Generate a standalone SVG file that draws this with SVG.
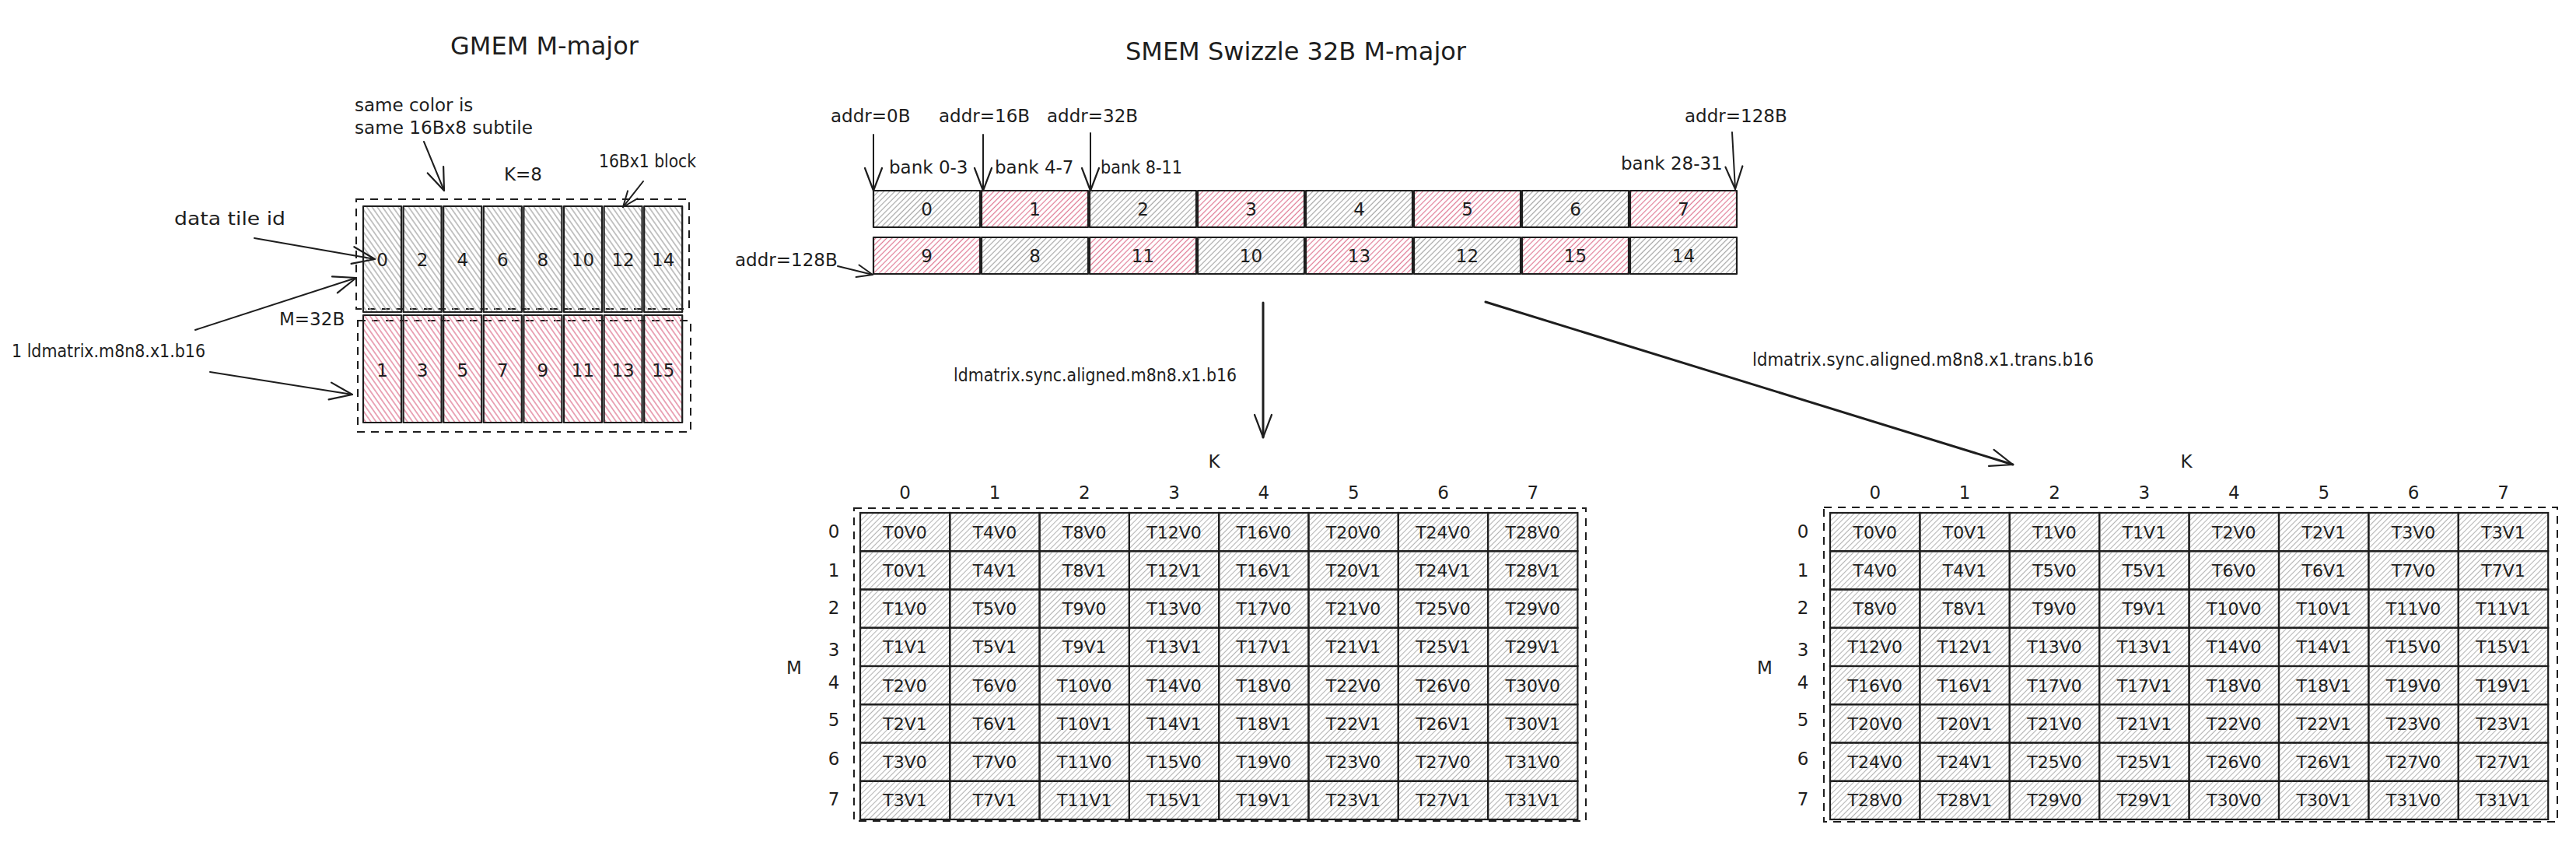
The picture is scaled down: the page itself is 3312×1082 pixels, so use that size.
<svg xmlns="http://www.w3.org/2000/svg" width="3312" height="1082" viewBox="0 0 3312 1082">
<defs>
<style>
text{font-family:"DejaVu Sans","Liberation Sans",sans-serif;fill:#1e1e1e}
.title{font-size:32px;text-anchor:middle}
.lbl{font-size:23px}
.mid{text-anchor:middle;dominant-baseline:central}
.num{font-size:23px;text-anchor:middle;dominant-baseline:central}
.ct{font-size:22px;text-anchor:middle;dominant-baseline:central}
.box{stroke:#1e1e1e;stroke-width:2.2;stroke-linejoin:round}
.gg{fill:url(#hGg)}
.gp{fill:url(#hGp)}
.sg{fill:url(#hSg)}
.sp{fill:url(#hSp)}
.mc{fill:url(#hM);stroke:#1e1e1e;stroke-width:2.2}
.dash{fill:none;stroke:#1e1e1e;stroke-width:2;stroke-dasharray:10 8}
.con{fill:none;stroke:#1e1e1e;stroke-width:2;stroke-linecap:round}
.big{stroke-width:3}
</style>
<pattern id="hGg" width="5.5" height="5.5" patternUnits="userSpaceOnUse" patternTransform="rotate(-35)"><line x1="2.75" y1="0" x2="2.75" y2="5.5" stroke="#a6a6a6" stroke-width="1.3"/></pattern>
<pattern id="hGp" width="5.5" height="5.5" patternUnits="userSpaceOnUse" patternTransform="rotate(-35)"><line x1="2.75" y1="0" x2="2.75" y2="5.5" stroke="#e07a94" stroke-width="1.3"/></pattern>
<pattern id="hSg" width="5" height="5" patternUnits="userSpaceOnUse" patternTransform="rotate(45)"><line x1="2.5" y1="0" x2="2.5" y2="5" stroke="#a6a6a6" stroke-width="1.2"/></pattern>
<pattern id="hSp" width="5" height="5" patternUnits="userSpaceOnUse" patternTransform="rotate(45)"><line x1="2.5" y1="0" x2="2.5" y2="5" stroke="#e07a94" stroke-width="1.2"/></pattern>
<pattern id="hM" width="5" height="5" patternUnits="userSpaceOnUse" patternTransform="rotate(45)"><line x1="2.5" y1="0" x2="2.5" y2="5" stroke="#b4b4b4" stroke-width="1.1"/></pattern>
<marker id="arr" viewBox="0 0 34 26" refX="31" refY="13" markerWidth="34" markerHeight="26" markerUnits="userSpaceOnUse" orient="auto" overflow="visible"><path d="M2 2 L31 13 L2 24" fill="none" stroke="#1e1e1e" stroke-width="2.2" stroke-linecap="round" stroke-linejoin="round"/></marker>
<marker id="arrS" viewBox="0 0 24 20" refX="22" refY="10" markerWidth="24" markerHeight="20" markerUnits="userSpaceOnUse" orient="auto" overflow="visible"><path d="M2 2 L22 10 L2 18" fill="none" stroke="#1e1e1e" stroke-width="2" stroke-linecap="round" stroke-linejoin="round"/></marker>
</defs>
<rect width="3312" height="1082" fill="#ffffff"/>

<g id="gmem">
<text class="title" x="700" y="70">GMEM M-major</text>
<rect class="dash" x="458" y="256" width="428" height="141"/>
<rect class="dash" x="460" y="412" width="428" height="143"/>
<g id="gmem-t0"><rect class="box gg" x="467" y="265" width="49" height="136"/><text class="num" x="491.5" y="334">0</text></g>
<g id="gmem-t2"><rect class="box gg" x="518.6" y="265" width="49" height="136"/><text class="num" x="543.1" y="334">2</text></g>
<g id="gmem-t4"><rect class="box gg" x="570.2" y="265" width="49" height="136"/><text class="num" x="594.7" y="334">4</text></g>
<g id="gmem-t6"><rect class="box gg" x="621.8" y="265" width="49" height="136"/><text class="num" x="646.3" y="334">6</text></g>
<g id="gmem-t8"><rect class="box gg" x="673.4" y="265" width="49" height="136"/><text class="num" x="697.9" y="334">8</text></g>
<g id="gmem-t10"><rect class="box gg" x="725" y="265" width="49" height="136"/><text class="num" x="749.5" y="334">10</text></g>
<g id="gmem-t12"><rect class="box gg" x="776.6" y="265" width="49" height="136"/><text class="num" x="801.1" y="334">12</text></g>
<g id="gmem-t14"><rect class="box gg" x="828.2" y="265" width="49" height="136"/><text class="num" x="852.7" y="334">14</text></g>
<g id="gmem-t1"><rect class="box gp" x="467" y="405" width="49" height="138"/><text class="num" x="491.5" y="476">1</text></g>
<g id="gmem-t3"><rect class="box gp" x="518.6" y="405" width="49" height="138"/><text class="num" x="543.1" y="476">3</text></g>
<g id="gmem-t5"><rect class="box gp" x="570.2" y="405" width="49" height="138"/><text class="num" x="594.7" y="476">5</text></g>
<g id="gmem-t7"><rect class="box gp" x="621.8" y="405" width="49" height="138"/><text class="num" x="646.3" y="476">7</text></g>
<g id="gmem-t9"><rect class="box gp" x="673.4" y="405" width="49" height="138"/><text class="num" x="697.9" y="476">9</text></g>
<g id="gmem-t11"><rect class="box gp" x="725" y="405" width="49" height="138"/><text class="num" x="749.5" y="476">11</text></g>
<g id="gmem-t13"><rect class="box gp" x="776.6" y="405" width="49" height="138"/><text class="num" x="801.1" y="476">13</text></g>
<g id="gmem-t15"><rect class="box gp" x="828.2" y="405" width="49" height="138"/><text class="num" x="852.7" y="476">15</text></g>
</g>

<g id="gmem-labels">
<text class="lbl" x="456" y="143">same color is</text>
<text class="lbl" x="456" y="172" textLength="229" lengthAdjust="spacingAndGlyphs">same 16Bx8 subtile</text>
<text class="lbl" x="648" y="232">K=8</text>
<text class="lbl" x="770" y="215" textLength="125" lengthAdjust="spacingAndGlyphs">16Bx1 block</text>
<text class="lbl" x="224" y="289" textLength="143" lengthAdjust="spacingAndGlyphs">data tile id</text>
<text class="lbl" x="359" y="418">M=32B</text>
<text class="lbl" x="15" y="459" textLength="249" lengthAdjust="spacingAndGlyphs">1 ldmatrix.m8n8.x1.b16</text>
</g>

<g id="smem">
<text class="title" x="1666" y="77">SMEM Swizzle 32B M-major</text>
<g id="smem-t0"><rect class="box sg" x="1123" y="245" width="137" height="47"/><text class="num" x="1191.5" y="269">0</text></g>
<g id="smem-t1"><rect class="box sp" x="1262" y="245" width="137" height="47"/><text class="num" x="1330.5" y="269">1</text></g>
<g id="smem-t2"><rect class="box sg" x="1401" y="245" width="137" height="47"/><text class="num" x="1469.5" y="269">2</text></g>
<g id="smem-t3"><rect class="box sp" x="1540" y="245" width="137" height="47"/><text class="num" x="1608.5" y="269">3</text></g>
<g id="smem-t4"><rect class="box sg" x="1679" y="245" width="137" height="47"/><text class="num" x="1747.5" y="269">4</text></g>
<g id="smem-t5"><rect class="box sp" x="1818" y="245" width="137" height="47"/><text class="num" x="1886.5" y="269">5</text></g>
<g id="smem-t6"><rect class="box sg" x="1957" y="245" width="137" height="47"/><text class="num" x="2025.5" y="269">6</text></g>
<g id="smem-t7"><rect class="box sp" x="2096" y="245" width="137" height="47"/><text class="num" x="2164.5" y="269">7</text></g>
<g id="smem-t9"><rect class="box sp" x="1123" y="305" width="137" height="47"/><text class="num" x="1191.5" y="329">9</text></g>
<g id="smem-t8"><rect class="box sg" x="1262" y="305" width="137" height="47"/><text class="num" x="1330.5" y="329">8</text></g>
<g id="smem-t11"><rect class="box sp" x="1401" y="305" width="137" height="47"/><text class="num" x="1469.5" y="329">11</text></g>
<g id="smem-t10"><rect class="box sg" x="1540" y="305" width="137" height="47"/><text class="num" x="1608.5" y="329">10</text></g>
<g id="smem-t13"><rect class="box sp" x="1679" y="305" width="137" height="47"/><text class="num" x="1747.5" y="329">13</text></g>
<g id="smem-t12"><rect class="box sg" x="1818" y="305" width="137" height="47"/><text class="num" x="1886.5" y="329">12</text></g>
<g id="smem-t15"><rect class="box sp" x="1957" y="305" width="137" height="47"/><text class="num" x="2025.5" y="329">15</text></g>
<g id="smem-t14"><rect class="box sg" x="2096" y="305" width="137" height="47"/><text class="num" x="2164.5" y="329">14</text></g>
</g>

<g id="smem-labels">
<text class="lbl" x="1068" y="157">addr=0B</text>
<text class="lbl" x="1207" y="157">addr=16B</text>
<text class="lbl" x="1346" y="157">addr=32B</text>
<text class="lbl" x="2166" y="157">addr=128B</text>
<text class="lbl" x="945" y="342">addr=128B</text>
<text class="lbl" x="1143" y="223">bank 0-3</text>
<text class="lbl" x="1279" y="223">bank 4-7</text>
<text class="lbl" x="1415" y="223" textLength="105" lengthAdjust="spacingAndGlyphs">bank 8-11</text>
<text class="lbl" x="2084" y="218">bank 28-31</text>
</g>

<g id="op-labels">
<text class="lbl" x="1226" y="490" textLength="364" lengthAdjust="spacingAndGlyphs">ldmatrix.sync.aligned.m8n8.x1.b16</text>
<text class="lbl" x="2253" y="470" textLength="439" lengthAdjust="spacingAndGlyphs">ldmatrix.sync.aligned.m8n8.x1.trans.b16</text>
</g>

<g id="connectors">
<line class="con" x1="545" y1="182" x2="571" y2="245" marker-end="url(#arr)"/>
<line class="con" x1="827" y1="233" x2="801" y2="266" marker-end="url(#arrS)"/>
<line class="con" x1="327" y1="306" x2="482" y2="333" marker-end="url(#arr)"/>
<line class="con" x1="251" y1="424" x2="458" y2="357" marker-end="url(#arr)"/>
<line class="con" x1="270" y1="478" x2="453" y2="507" marker-end="url(#arr)"/>
<line class="con" x1="1123" y1="173" x2="1123" y2="245" marker-end="url(#arr)"/>
<line class="con" x1="1264" y1="173" x2="1264" y2="245" marker-end="url(#arr)"/>
<line class="con" x1="1402" y1="171" x2="1402" y2="245" marker-end="url(#arr)"/>
<line class="con" x1="2227" y1="170" x2="2231" y2="243" marker-end="url(#arr)"/>
<line class="con" x1="1077" y1="342" x2="1122" y2="353" marker-end="url(#arrS)"/>
<line class="con big" x1="1624" y1="389" x2="1624" y2="562" marker-end="url(#arr)"/>
<line class="con big" x1="1910" y1="388" x2="2588" y2="597" marker-end="url(#arr)"/>
</g>

<g id="matrix-left">
<text class="lbl mid" x="1561" y="593">K</text>
<text class="lbl mid" x="1021" y="858">M</text>
<text class="lbl mid" x="1163.6" y="633">0</text>
<text class="lbl mid" x="1279" y="633">1</text>
<text class="lbl mid" x="1394.3" y="633">2</text>
<text class="lbl mid" x="1509.6" y="633">3</text>
<text class="lbl mid" x="1624.9" y="633">4</text>
<text class="lbl mid" x="1740.2" y="633">5</text>
<text class="lbl mid" x="1855.5" y="633">6</text>
<text class="lbl mid" x="1970.8" y="633">7</text>
<text class="lbl mid" x="1072" y="683">0</text>
<text class="lbl mid" x="1072" y="733">1</text>
<text class="lbl mid" x="1072" y="781">2</text>
<text class="lbl mid" x="1072" y="835">3</text>
<text class="lbl mid" x="1072" y="877">4</text>
<text class="lbl mid" x="1072" y="925">5</text>
<text class="lbl mid" x="1072" y="975">6</text>
<text class="lbl mid" x="1072" y="1027">7</text>
<rect class="dash" x="1098" y="653" width="941" height="402"/>
<g transform="translate(1106,659)">
<g id="L-r0c0" transform="translate(0,0)"><rect class="mc" width="115.3" height="49.25"/><text class="ct" x="57.6" y="25">T0V0</text></g>
<g id="L-r0c1" transform="translate(115.3,0)"><rect class="mc" width="115.3" height="49.25"/><text class="ct" x="57.6" y="25">T4V0</text></g>
<g id="L-r0c2" transform="translate(230.6,0)"><rect class="mc" width="115.3" height="49.25"/><text class="ct" x="57.6" y="25">T8V0</text></g>
<g id="L-r0c3" transform="translate(345.9,0)"><rect class="mc" width="115.3" height="49.25"/><text class="ct" x="57.6" y="25">T12V0</text></g>
<g id="L-r0c4" transform="translate(461.2,0)"><rect class="mc" width="115.3" height="49.25"/><text class="ct" x="57.6" y="25">T16V0</text></g>
<g id="L-r0c5" transform="translate(576.5,0)"><rect class="mc" width="115.3" height="49.25"/><text class="ct" x="57.6" y="25">T20V0</text></g>
<g id="L-r0c6" transform="translate(691.8,0)"><rect class="mc" width="115.3" height="49.25"/><text class="ct" x="57.6" y="25">T24V0</text></g>
<g id="L-r0c7" transform="translate(807.1,0)"><rect class="mc" width="115.3" height="49.25"/><text class="ct" x="57.6" y="25">T28V0</text></g>
<g id="L-r1c0" transform="translate(0,49.25)"><rect class="mc" width="115.3" height="49.25"/><text class="ct" x="57.6" y="25">T0V1</text></g>
<g id="L-r1c1" transform="translate(115.3,49.25)"><rect class="mc" width="115.3" height="49.25"/><text class="ct" x="57.6" y="25">T4V1</text></g>
<g id="L-r1c2" transform="translate(230.6,49.25)"><rect class="mc" width="115.3" height="49.25"/><text class="ct" x="57.6" y="25">T8V1</text></g>
<g id="L-r1c3" transform="translate(345.9,49.25)"><rect class="mc" width="115.3" height="49.25"/><text class="ct" x="57.6" y="25">T12V1</text></g>
<g id="L-r1c4" transform="translate(461.2,49.25)"><rect class="mc" width="115.3" height="49.25"/><text class="ct" x="57.6" y="25">T16V1</text></g>
<g id="L-r1c5" transform="translate(576.5,49.25)"><rect class="mc" width="115.3" height="49.25"/><text class="ct" x="57.6" y="25">T20V1</text></g>
<g id="L-r1c6" transform="translate(691.8,49.25)"><rect class="mc" width="115.3" height="49.25"/><text class="ct" x="57.6" y="25">T24V1</text></g>
<g id="L-r1c7" transform="translate(807.1,49.25)"><rect class="mc" width="115.3" height="49.25"/><text class="ct" x="57.6" y="25">T28V1</text></g>
<g id="L-r2c0" transform="translate(0,98.5)"><rect class="mc" width="115.3" height="49.25"/><text class="ct" x="57.6" y="25">T1V0</text></g>
<g id="L-r2c1" transform="translate(115.3,98.5)"><rect class="mc" width="115.3" height="49.25"/><text class="ct" x="57.6" y="25">T5V0</text></g>
<g id="L-r2c2" transform="translate(230.6,98.5)"><rect class="mc" width="115.3" height="49.25"/><text class="ct" x="57.6" y="25">T9V0</text></g>
<g id="L-r2c3" transform="translate(345.9,98.5)"><rect class="mc" width="115.3" height="49.25"/><text class="ct" x="57.6" y="25">T13V0</text></g>
<g id="L-r2c4" transform="translate(461.2,98.5)"><rect class="mc" width="115.3" height="49.25"/><text class="ct" x="57.6" y="25">T17V0</text></g>
<g id="L-r2c5" transform="translate(576.5,98.5)"><rect class="mc" width="115.3" height="49.25"/><text class="ct" x="57.6" y="25">T21V0</text></g>
<g id="L-r2c6" transform="translate(691.8,98.5)"><rect class="mc" width="115.3" height="49.25"/><text class="ct" x="57.6" y="25">T25V0</text></g>
<g id="L-r2c7" transform="translate(807.1,98.5)"><rect class="mc" width="115.3" height="49.25"/><text class="ct" x="57.6" y="25">T29V0</text></g>
<g id="L-r3c0" transform="translate(0,147.75)"><rect class="mc" width="115.3" height="49.25"/><text class="ct" x="57.6" y="25">T1V1</text></g>
<g id="L-r3c1" transform="translate(115.3,147.75)"><rect class="mc" width="115.3" height="49.25"/><text class="ct" x="57.6" y="25">T5V1</text></g>
<g id="L-r3c2" transform="translate(230.6,147.75)"><rect class="mc" width="115.3" height="49.25"/><text class="ct" x="57.6" y="25">T9V1</text></g>
<g id="L-r3c3" transform="translate(345.9,147.75)"><rect class="mc" width="115.3" height="49.25"/><text class="ct" x="57.6" y="25">T13V1</text></g>
<g id="L-r3c4" transform="translate(461.2,147.75)"><rect class="mc" width="115.3" height="49.25"/><text class="ct" x="57.6" y="25">T17V1</text></g>
<g id="L-r3c5" transform="translate(576.5,147.75)"><rect class="mc" width="115.3" height="49.25"/><text class="ct" x="57.6" y="25">T21V1</text></g>
<g id="L-r3c6" transform="translate(691.8,147.75)"><rect class="mc" width="115.3" height="49.25"/><text class="ct" x="57.6" y="25">T25V1</text></g>
<g id="L-r3c7" transform="translate(807.1,147.75)"><rect class="mc" width="115.3" height="49.25"/><text class="ct" x="57.6" y="25">T29V1</text></g>
<g id="L-r4c0" transform="translate(0,197)"><rect class="mc" width="115.3" height="49.25"/><text class="ct" x="57.6" y="25">T2V0</text></g>
<g id="L-r4c1" transform="translate(115.3,197)"><rect class="mc" width="115.3" height="49.25"/><text class="ct" x="57.6" y="25">T6V0</text></g>
<g id="L-r4c2" transform="translate(230.6,197)"><rect class="mc" width="115.3" height="49.25"/><text class="ct" x="57.6" y="25">T10V0</text></g>
<g id="L-r4c3" transform="translate(345.9,197)"><rect class="mc" width="115.3" height="49.25"/><text class="ct" x="57.6" y="25">T14V0</text></g>
<g id="L-r4c4" transform="translate(461.2,197)"><rect class="mc" width="115.3" height="49.25"/><text class="ct" x="57.6" y="25">T18V0</text></g>
<g id="L-r4c5" transform="translate(576.5,197)"><rect class="mc" width="115.3" height="49.25"/><text class="ct" x="57.6" y="25">T22V0</text></g>
<g id="L-r4c6" transform="translate(691.8,197)"><rect class="mc" width="115.3" height="49.25"/><text class="ct" x="57.6" y="25">T26V0</text></g>
<g id="L-r4c7" transform="translate(807.1,197)"><rect class="mc" width="115.3" height="49.25"/><text class="ct" x="57.6" y="25">T30V0</text></g>
<g id="L-r5c0" transform="translate(0,246.25)"><rect class="mc" width="115.3" height="49.25"/><text class="ct" x="57.6" y="25">T2V1</text></g>
<g id="L-r5c1" transform="translate(115.3,246.25)"><rect class="mc" width="115.3" height="49.25"/><text class="ct" x="57.6" y="25">T6V1</text></g>
<g id="L-r5c2" transform="translate(230.6,246.25)"><rect class="mc" width="115.3" height="49.25"/><text class="ct" x="57.6" y="25">T10V1</text></g>
<g id="L-r5c3" transform="translate(345.9,246.25)"><rect class="mc" width="115.3" height="49.25"/><text class="ct" x="57.6" y="25">T14V1</text></g>
<g id="L-r5c4" transform="translate(461.2,246.25)"><rect class="mc" width="115.3" height="49.25"/><text class="ct" x="57.6" y="25">T18V1</text></g>
<g id="L-r5c5" transform="translate(576.5,246.25)"><rect class="mc" width="115.3" height="49.25"/><text class="ct" x="57.6" y="25">T22V1</text></g>
<g id="L-r5c6" transform="translate(691.8,246.25)"><rect class="mc" width="115.3" height="49.25"/><text class="ct" x="57.6" y="25">T26V1</text></g>
<g id="L-r5c7" transform="translate(807.1,246.25)"><rect class="mc" width="115.3" height="49.25"/><text class="ct" x="57.6" y="25">T30V1</text></g>
<g id="L-r6c0" transform="translate(0,295.5)"><rect class="mc" width="115.3" height="49.25"/><text class="ct" x="57.6" y="25">T3V0</text></g>
<g id="L-r6c1" transform="translate(115.3,295.5)"><rect class="mc" width="115.3" height="49.25"/><text class="ct" x="57.6" y="25">T7V0</text></g>
<g id="L-r6c2" transform="translate(230.6,295.5)"><rect class="mc" width="115.3" height="49.25"/><text class="ct" x="57.6" y="25">T11V0</text></g>
<g id="L-r6c3" transform="translate(345.9,295.5)"><rect class="mc" width="115.3" height="49.25"/><text class="ct" x="57.6" y="25">T15V0</text></g>
<g id="L-r6c4" transform="translate(461.2,295.5)"><rect class="mc" width="115.3" height="49.25"/><text class="ct" x="57.6" y="25">T19V0</text></g>
<g id="L-r6c5" transform="translate(576.5,295.5)"><rect class="mc" width="115.3" height="49.25"/><text class="ct" x="57.6" y="25">T23V0</text></g>
<g id="L-r6c6" transform="translate(691.8,295.5)"><rect class="mc" width="115.3" height="49.25"/><text class="ct" x="57.6" y="25">T27V0</text></g>
<g id="L-r6c7" transform="translate(807.1,295.5)"><rect class="mc" width="115.3" height="49.25"/><text class="ct" x="57.6" y="25">T31V0</text></g>
<g id="L-r7c0" transform="translate(0,344.75)"><rect class="mc" width="115.3" height="49.25"/><text class="ct" x="57.6" y="25">T3V1</text></g>
<g id="L-r7c1" transform="translate(115.3,344.75)"><rect class="mc" width="115.3" height="49.25"/><text class="ct" x="57.6" y="25">T7V1</text></g>
<g id="L-r7c2" transform="translate(230.6,344.75)"><rect class="mc" width="115.3" height="49.25"/><text class="ct" x="57.6" y="25">T11V1</text></g>
<g id="L-r7c3" transform="translate(345.9,344.75)"><rect class="mc" width="115.3" height="49.25"/><text class="ct" x="57.6" y="25">T15V1</text></g>
<g id="L-r7c4" transform="translate(461.2,344.75)"><rect class="mc" width="115.3" height="49.25"/><text class="ct" x="57.6" y="25">T19V1</text></g>
<g id="L-r7c5" transform="translate(576.5,344.75)"><rect class="mc" width="115.3" height="49.25"/><text class="ct" x="57.6" y="25">T23V1</text></g>
<g id="L-r7c6" transform="translate(691.8,344.75)"><rect class="mc" width="115.3" height="49.25"/><text class="ct" x="57.6" y="25">T27V1</text></g>
<g id="L-r7c7" transform="translate(807.1,344.75)"><rect class="mc" width="115.3" height="49.25"/><text class="ct" x="57.6" y="25">T31V1</text></g>
</g>
</g>

<g id="matrix-right">
<text class="lbl mid" x="2811" y="593">K</text>
<text class="lbl mid" x="2269" y="858">M</text>
<text class="lbl mid" x="2410.7" y="633">0</text>
<text class="lbl mid" x="2526.1" y="633">1</text>
<text class="lbl mid" x="2641.5" y="633">2</text>
<text class="lbl mid" x="2756.9" y="633">3</text>
<text class="lbl mid" x="2872.3" y="633">4</text>
<text class="lbl mid" x="2987.7" y="633">5</text>
<text class="lbl mid" x="3103.1" y="633">6</text>
<text class="lbl mid" x="3218.5" y="633">7</text>
<text class="lbl mid" x="2318" y="683">0</text>
<text class="lbl mid" x="2318" y="733">1</text>
<text class="lbl mid" x="2318" y="781">2</text>
<text class="lbl mid" x="2318" y="835">3</text>
<text class="lbl mid" x="2318" y="877">4</text>
<text class="lbl mid" x="2318" y="925">5</text>
<text class="lbl mid" x="2318" y="975">6</text>
<text class="lbl mid" x="2318" y="1027">7</text>
<rect class="dash" x="2345" y="652" width="943" height="404"/>
<g transform="translate(2353,659)">
<g id="R-r0c0" transform="translate(0,0)"><rect class="mc" width="115.4" height="49.25"/><text class="ct" x="57.7" y="25">T0V0</text></g>
<g id="R-r0c1" transform="translate(115.4,0)"><rect class="mc" width="115.4" height="49.25"/><text class="ct" x="57.7" y="25">T0V1</text></g>
<g id="R-r0c2" transform="translate(230.8,0)"><rect class="mc" width="115.4" height="49.25"/><text class="ct" x="57.7" y="25">T1V0</text></g>
<g id="R-r0c3" transform="translate(346.2,0)"><rect class="mc" width="115.4" height="49.25"/><text class="ct" x="57.7" y="25">T1V1</text></g>
<g id="R-r0c4" transform="translate(461.6,0)"><rect class="mc" width="115.4" height="49.25"/><text class="ct" x="57.7" y="25">T2V0</text></g>
<g id="R-r0c5" transform="translate(577,0)"><rect class="mc" width="115.4" height="49.25"/><text class="ct" x="57.7" y="25">T2V1</text></g>
<g id="R-r0c6" transform="translate(692.4,0)"><rect class="mc" width="115.4" height="49.25"/><text class="ct" x="57.7" y="25">T3V0</text></g>
<g id="R-r0c7" transform="translate(807.8,0)"><rect class="mc" width="115.4" height="49.25"/><text class="ct" x="57.7" y="25">T3V1</text></g>
<g id="R-r1c0" transform="translate(0,49.25)"><rect class="mc" width="115.4" height="49.25"/><text class="ct" x="57.7" y="25">T4V0</text></g>
<g id="R-r1c1" transform="translate(115.4,49.25)"><rect class="mc" width="115.4" height="49.25"/><text class="ct" x="57.7" y="25">T4V1</text></g>
<g id="R-r1c2" transform="translate(230.8,49.25)"><rect class="mc" width="115.4" height="49.25"/><text class="ct" x="57.7" y="25">T5V0</text></g>
<g id="R-r1c3" transform="translate(346.2,49.25)"><rect class="mc" width="115.4" height="49.25"/><text class="ct" x="57.7" y="25">T5V1</text></g>
<g id="R-r1c4" transform="translate(461.6,49.25)"><rect class="mc" width="115.4" height="49.25"/><text class="ct" x="57.7" y="25">T6V0</text></g>
<g id="R-r1c5" transform="translate(577,49.25)"><rect class="mc" width="115.4" height="49.25"/><text class="ct" x="57.7" y="25">T6V1</text></g>
<g id="R-r1c6" transform="translate(692.4,49.25)"><rect class="mc" width="115.4" height="49.25"/><text class="ct" x="57.7" y="25">T7V0</text></g>
<g id="R-r1c7" transform="translate(807.8,49.25)"><rect class="mc" width="115.4" height="49.25"/><text class="ct" x="57.7" y="25">T7V1</text></g>
<g id="R-r2c0" transform="translate(0,98.5)"><rect class="mc" width="115.4" height="49.25"/><text class="ct" x="57.7" y="25">T8V0</text></g>
<g id="R-r2c1" transform="translate(115.4,98.5)"><rect class="mc" width="115.4" height="49.25"/><text class="ct" x="57.7" y="25">T8V1</text></g>
<g id="R-r2c2" transform="translate(230.8,98.5)"><rect class="mc" width="115.4" height="49.25"/><text class="ct" x="57.7" y="25">T9V0</text></g>
<g id="R-r2c3" transform="translate(346.2,98.5)"><rect class="mc" width="115.4" height="49.25"/><text class="ct" x="57.7" y="25">T9V1</text></g>
<g id="R-r2c4" transform="translate(461.6,98.5)"><rect class="mc" width="115.4" height="49.25"/><text class="ct" x="57.7" y="25">T10V0</text></g>
<g id="R-r2c5" transform="translate(577,98.5)"><rect class="mc" width="115.4" height="49.25"/><text class="ct" x="57.7" y="25">T10V1</text></g>
<g id="R-r2c6" transform="translate(692.4,98.5)"><rect class="mc" width="115.4" height="49.25"/><text class="ct" x="57.7" y="25">T11V0</text></g>
<g id="R-r2c7" transform="translate(807.8,98.5)"><rect class="mc" width="115.4" height="49.25"/><text class="ct" x="57.7" y="25">T11V1</text></g>
<g id="R-r3c0" transform="translate(0,147.75)"><rect class="mc" width="115.4" height="49.25"/><text class="ct" x="57.7" y="25">T12V0</text></g>
<g id="R-r3c1" transform="translate(115.4,147.75)"><rect class="mc" width="115.4" height="49.25"/><text class="ct" x="57.7" y="25">T12V1</text></g>
<g id="R-r3c2" transform="translate(230.8,147.75)"><rect class="mc" width="115.4" height="49.25"/><text class="ct" x="57.7" y="25">T13V0</text></g>
<g id="R-r3c3" transform="translate(346.2,147.75)"><rect class="mc" width="115.4" height="49.25"/><text class="ct" x="57.7" y="25">T13V1</text></g>
<g id="R-r3c4" transform="translate(461.6,147.75)"><rect class="mc" width="115.4" height="49.25"/><text class="ct" x="57.7" y="25">T14V0</text></g>
<g id="R-r3c5" transform="translate(577,147.75)"><rect class="mc" width="115.4" height="49.25"/><text class="ct" x="57.7" y="25">T14V1</text></g>
<g id="R-r3c6" transform="translate(692.4,147.75)"><rect class="mc" width="115.4" height="49.25"/><text class="ct" x="57.7" y="25">T15V0</text></g>
<g id="R-r3c7" transform="translate(807.8,147.75)"><rect class="mc" width="115.4" height="49.25"/><text class="ct" x="57.7" y="25">T15V1</text></g>
<g id="R-r4c0" transform="translate(0,197)"><rect class="mc" width="115.4" height="49.25"/><text class="ct" x="57.7" y="25">T16V0</text></g>
<g id="R-r4c1" transform="translate(115.4,197)"><rect class="mc" width="115.4" height="49.25"/><text class="ct" x="57.7" y="25">T16V1</text></g>
<g id="R-r4c2" transform="translate(230.8,197)"><rect class="mc" width="115.4" height="49.25"/><text class="ct" x="57.7" y="25">T17V0</text></g>
<g id="R-r4c3" transform="translate(346.2,197)"><rect class="mc" width="115.4" height="49.25"/><text class="ct" x="57.7" y="25">T17V1</text></g>
<g id="R-r4c4" transform="translate(461.6,197)"><rect class="mc" width="115.4" height="49.25"/><text class="ct" x="57.7" y="25">T18V0</text></g>
<g id="R-r4c5" transform="translate(577,197)"><rect class="mc" width="115.4" height="49.25"/><text class="ct" x="57.7" y="25">T18V1</text></g>
<g id="R-r4c6" transform="translate(692.4,197)"><rect class="mc" width="115.4" height="49.25"/><text class="ct" x="57.7" y="25">T19V0</text></g>
<g id="R-r4c7" transform="translate(807.8,197)"><rect class="mc" width="115.4" height="49.25"/><text class="ct" x="57.7" y="25">T19V1</text></g>
<g id="R-r5c0" transform="translate(0,246.25)"><rect class="mc" width="115.4" height="49.25"/><text class="ct" x="57.7" y="25">T20V0</text></g>
<g id="R-r5c1" transform="translate(115.4,246.25)"><rect class="mc" width="115.4" height="49.25"/><text class="ct" x="57.7" y="25">T20V1</text></g>
<g id="R-r5c2" transform="translate(230.8,246.25)"><rect class="mc" width="115.4" height="49.25"/><text class="ct" x="57.7" y="25">T21V0</text></g>
<g id="R-r5c3" transform="translate(346.2,246.25)"><rect class="mc" width="115.4" height="49.25"/><text class="ct" x="57.7" y="25">T21V1</text></g>
<g id="R-r5c4" transform="translate(461.6,246.25)"><rect class="mc" width="115.4" height="49.25"/><text class="ct" x="57.7" y="25">T22V0</text></g>
<g id="R-r5c5" transform="translate(577,246.25)"><rect class="mc" width="115.4" height="49.25"/><text class="ct" x="57.7" y="25">T22V1</text></g>
<g id="R-r5c6" transform="translate(692.4,246.25)"><rect class="mc" width="115.4" height="49.25"/><text class="ct" x="57.7" y="25">T23V0</text></g>
<g id="R-r5c7" transform="translate(807.8,246.25)"><rect class="mc" width="115.4" height="49.25"/><text class="ct" x="57.7" y="25">T23V1</text></g>
<g id="R-r6c0" transform="translate(0,295.5)"><rect class="mc" width="115.4" height="49.25"/><text class="ct" x="57.7" y="25">T24V0</text></g>
<g id="R-r6c1" transform="translate(115.4,295.5)"><rect class="mc" width="115.4" height="49.25"/><text class="ct" x="57.7" y="25">T24V1</text></g>
<g id="R-r6c2" transform="translate(230.8,295.5)"><rect class="mc" width="115.4" height="49.25"/><text class="ct" x="57.7" y="25">T25V0</text></g>
<g id="R-r6c3" transform="translate(346.2,295.5)"><rect class="mc" width="115.4" height="49.25"/><text class="ct" x="57.7" y="25">T25V1</text></g>
<g id="R-r6c4" transform="translate(461.6,295.5)"><rect class="mc" width="115.4" height="49.25"/><text class="ct" x="57.7" y="25">T26V0</text></g>
<g id="R-r6c5" transform="translate(577,295.5)"><rect class="mc" width="115.4" height="49.25"/><text class="ct" x="57.7" y="25">T26V1</text></g>
<g id="R-r6c6" transform="translate(692.4,295.5)"><rect class="mc" width="115.4" height="49.25"/><text class="ct" x="57.7" y="25">T27V0</text></g>
<g id="R-r6c7" transform="translate(807.8,295.5)"><rect class="mc" width="115.4" height="49.25"/><text class="ct" x="57.7" y="25">T27V1</text></g>
<g id="R-r7c0" transform="translate(0,344.75)"><rect class="mc" width="115.4" height="49.25"/><text class="ct" x="57.7" y="25">T28V0</text></g>
<g id="R-r7c1" transform="translate(115.4,344.75)"><rect class="mc" width="115.4" height="49.25"/><text class="ct" x="57.7" y="25">T28V1</text></g>
<g id="R-r7c2" transform="translate(230.8,344.75)"><rect class="mc" width="115.4" height="49.25"/><text class="ct" x="57.7" y="25">T29V0</text></g>
<g id="R-r7c3" transform="translate(346.2,344.75)"><rect class="mc" width="115.4" height="49.25"/><text class="ct" x="57.7" y="25">T29V1</text></g>
<g id="R-r7c4" transform="translate(461.6,344.75)"><rect class="mc" width="115.4" height="49.25"/><text class="ct" x="57.7" y="25">T30V0</text></g>
<g id="R-r7c5" transform="translate(577,344.75)"><rect class="mc" width="115.4" height="49.25"/><text class="ct" x="57.7" y="25">T30V1</text></g>
<g id="R-r7c6" transform="translate(692.4,344.75)"><rect class="mc" width="115.4" height="49.25"/><text class="ct" x="57.7" y="25">T31V0</text></g>
<g id="R-r7c7" transform="translate(807.8,344.75)"><rect class="mc" width="115.4" height="49.25"/><text class="ct" x="57.7" y="25">T31V1</text></g>
</g>
</g>
</svg>
